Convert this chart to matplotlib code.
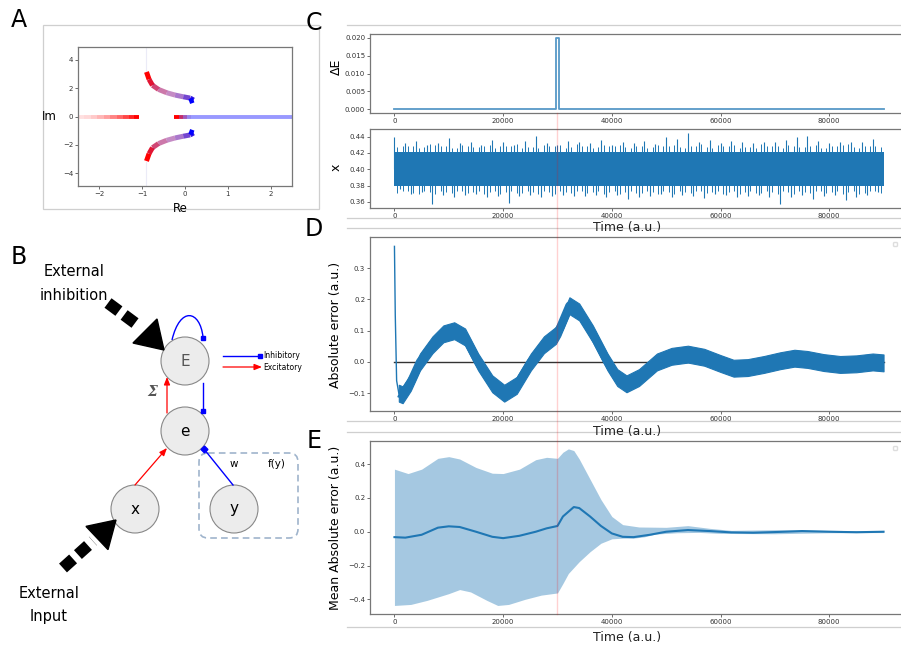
import numpy as np
import matplotlib
matplotlib.use("Agg")
import matplotlib.pyplot as plt
from matplotlib.collections import LineCollection
from matplotlib.patches import Circle, FancyBboxPatch, Polygon, PathPatch
from matplotlib.path import Path
from matplotlib.lines import Line2D

W, H = 901, 646
BLUE = "#1f77b4"

# ---- panel A: root locus (Re, Im) ----
branch_re = [-0.90, -0.84, -0.76, -0.62, -0.43, -0.23, -0.04, 0.12, 0.20, 0.10]
branch_im = [3.14, 2.62, 2.20, 1.91, 1.68, 1.51, 1.39, 1.30, 1.16, 1.05]
left_re = [-2.5, -2.35, -2.2, -2.05, -1.9, -1.75, -1.6, -1.45, -1.3, -1.2, -1.08]
right_re = [-0.25, -0.15, -0.05, 0.05, 0.15, 0.3, 0.5, 0.8, 1.1, 1.4, 1.7, 2.0, 2.25, 2.5]

# ---- panel C: dE pulse and input x ----
de_t = [0, 29800, 29800, 30300, 30300, 90000]
de_v = [0, 0, 0.020, 0.020, 0, 0]
x_band = [0.379, 0.421]
spk_t = list(range(0, 90000, 2000))
spk_hi = [0.440, 0.432, 0.435, 0.430, 0.432, 0.438, 0.432, 0.434, 0.430, 0.436,
          0.433, 0.430, 0.435, 0.441, 0.432, 0.430, 0.435, 0.433, 0.432, 0.436,
          0.430, 0.433, 0.432, 0.435, 0.431, 0.439, 0.437, 0.444, 0.434, 0.436,
          0.432, 0.435, 0.433, 0.432, 0.434, 0.433, 0.436, 0.440, 0.441, 0.435,
          0.432, 0.433, 0.434, 0.433, 0.437]
spk_lo = [0.376, 0.370, 0.372, 0.358, 0.369, 0.366, 0.368, 0.370, 0.366, 0.367,
          0.359, 0.367, 0.369, 0.366, 0.367, 0.368, 0.367, 0.367, 0.368, 0.366,
          0.369, 0.364, 0.366, 0.367, 0.370, 0.366, 0.368, 0.367, 0.365, 0.370,
          0.368, 0.366, 0.367, 0.368, 0.366, 0.358, 0.366, 0.368, 0.364, 0.367,
          0.368, 0.362, 0.366, 0.368, 0.372]
mid_hi = [0.427, 0.429, 0.426, 0.431, 0.428, 0.426, 0.430, 0.427, 0.429, 0.426,
          0.428, 0.431, 0.427, 0.426, 0.429, 0.430, 0.427, 0.428, 0.426, 0.430,
          0.429, 0.427, 0.428, 0.426, 0.430, 0.428, 0.427, 0.429, 0.431, 0.426,
          0.428, 0.430, 0.427, 0.426, 0.429, 0.428, 0.430, 0.427, 0.429, 0.426,
          0.428, 0.430, 0.427, 0.429, 0.428]
mid_lo = [0.373, 0.371, 0.374, 0.370, 0.372, 0.373, 0.371, 0.374, 0.372, 0.370,
          0.373, 0.371, 0.372, 0.374, 0.370, 0.372, 0.373, 0.371, 0.374, 0.372,
          0.370, 0.373, 0.371, 0.372, 0.374, 0.370, 0.372, 0.373, 0.371, 0.374,
          0.372, 0.370, 0.373, 0.371, 0.372, 0.374, 0.370, 0.372, 0.373, 0.371,
          0.374, 0.372, 0.370, 0.373, 0.371]

# ---- panel D: absolute error (noisy band) ----
d_start_t = [0, 150, 400, 800]
d_start_v = [0.37, 0.15, -0.06, -0.10]
d_t = [800, 1500, 3000, 4700, 7000, 9000, 11000, 13000, 15400, 18000, 20200,
       22500, 25100, 27500, 29700, 30500, 32200, 34000, 36500, 39200, 41000,
       42700, 45000, 48300, 51000, 54000, 57000, 60000, 62400, 65000, 68000,
       71000, 73600, 76000, 79000, 82000, 85000, 88000, 90000]
d_mid = [-0.10, -0.105, -0.065, 0.0, 0.055, 0.09, 0.10, 0.08, 0.0, -0.07, -0.10,
         -0.075, 0.0, 0.055, 0.085, 0.11, 0.18, 0.16, 0.09, 0.0, -0.05,
         -0.07, -0.05, 0.0, 0.018, 0.025, 0.015, -0.005, -0.02, -0.018, -0.008,
         0.004, 0.012, 0.008, -0.002, -0.008, -0.006, 0.0, -0.003]
d_half = 0.027

# ---- panel E: mean absolute error with spread ----
e_t = [0, 2000, 5000, 8000, 10000, 12000, 15000, 18000, 20000, 23000, 26000,
       28000, 30000, 31000, 33000, 34000, 36000, 38000, 40000, 42000, 44000,
       47000, 50000, 54000, 58000, 62000, 66000, 70000, 75000, 80000, 85000, 90000]
e_mean = [-0.032, -0.035, -0.018, 0.024, 0.032, 0.028, 0.0, -0.03, -0.038, -0.024, 0.0,
          0.02, 0.034, 0.09, 0.146, 0.14, 0.09, 0.034, -0.01, -0.03, -0.032,
          -0.018, 0.0, 0.01, 0.004, -0.004, -0.006, -0.002, 0.004, 0.0, -0.003, 0.0]
eu_t = [0, 2500, 5000, 8000, 10000, 12000, 15000, 18000, 20000, 23000, 26000, 28000,
        30000, 31000, 32000, 33000, 34000, 36000, 38000, 40000, 42000, 45000, 50000,
        54000, 58000, 62000, 70000, 80000, 90000]
e_up = [0.37, 0.344, 0.37, 0.434, 0.444, 0.43, 0.38, 0.346, 0.344, 0.37, 0.426, 0.44,
        0.434, 0.47, 0.49, 0.48, 0.43, 0.31, 0.19, 0.09, 0.042, 0.028, 0.026,
        0.036, 0.02, 0.008, 0.012, 0.008, 0.005]
el_t = [0, 3000, 6000, 10000, 12000, 14000, 17000, 19000, 21000, 24000, 27000, 30000,
        31000, 32000, 34000, 36000, 38000, 40000, 42000, 44000, 46000, 48000, 52000,
        56000, 60000, 70000, 80000, 90000]
e_lo = [-0.436, -0.43, -0.406, -0.366, -0.342, -0.356, -0.406, -0.436, -0.43, -0.40,
        -0.375, -0.362, -0.306, -0.247, -0.177, -0.118, -0.068, -0.042, -0.038, -0.038,
        -0.03, -0.014, -0.006, -0.004, -0.01, -0.012, -0.006, -0.005]

t_ticks = [0, 20000, 40000, 60000, 80000]
pulse_t = 30000

fig = plt.figure(figsize=(W / 100, H / 100), dpi=100)
plt.rcParams['font.family'] = ['DejaVu Sans']


def px_axes(l, t, r, b, **kw):
    return fig.add_axes([l / W, 1 - b / H, (r - l) / W, (b - t) / H], **kw)


def style(ax):
    for s in ax.spines.values():
        s.set_color("#777777")
        s.set_linewidth(0.9)
    ax.tick_params(labelsize=5, length=2, width=0.5, pad=1.5, colors="#333333")


def empty_legend(ax, ytop):
    ax.legend(handles=[], loc="upper right", bbox_to_anchor=(900 / W, 1 - ytop / H),
              bbox_transform=fig.transFigure, fontsize=4, borderpad=0.35,
              framealpha=1, edgecolor="#dddddd")


# overlay in pixel units for diagram, frames and labels
ov = fig.add_axes([0, 0, 1, 1], zorder=-1)
ov.set_xlim(0, W)
ov.set_ylim(H, 0)
ov.axis("off")

fc = "#cfcfcf"
ov.add_patch(plt.Rectangle((43, 25), 276, 184, fill=False, ec=fc, lw=0.9))
for yy in [25, 218, 228, 421, 432, 627]:
    ov.plot([347, W], [yy, yy], color=fc, lw=0.9)

for lab, xx, yy in [("A", 19, 20), ("B", 19, 257), ("C", 314, 23), ("D", 314, 229), ("E", 314, 441)]:
    ov.text(xx, yy, lab, fontsize=17, ha="center", va="center")

for yy in [227, 432, 638]:
    ov.text(627, yy, "Time (a.u.)", fontsize=9, ha="center", va="center", color="#222222")
ov.text(336, 67, "ΔE", fontsize=9, rotation=90, ha="center", va="center")
ov.text(336, 167, "x", fontsize=9, rotation=90, ha="center", va="center")
ov.text(336, 325, "Absolute error (a.u.)", fontsize=9, rotation=90, ha="center", va="center")
ov.text(336, 528, "Mean Absolute error (a.u.)", fontsize=9, rotation=90, ha="center", va="center")
ov.text(49, 117, "Im", fontsize=8.5, ha="center", va="center")
ov.text(180, 208, "Re", fontsize=8.5, ha="center", va="center")

# ---- diagram B ----
nodes = {"E": (185, 361), "e": (185, 431), "x": (135, 509), "y": (234, 509)}
for k, (cx, cy) in nodes.items():
    ov.add_patch(Circle((cx, cy), 24, fc="#ececec", ec="#888888", lw=0.8))
    ov.text(cx, cy, k, fontsize=11, ha="center", va="center",
            color="#555555" if k == "E" else "black")

ov.add_patch(FancyBboxPatch((199, 453), 99, 85, boxstyle="round,pad=0,rounding_size=9",
                            fill=False, ec="#9fb4cc", lw=1.2, ls=(0, (4, 2.5))))
ov.text(234, 464, "w", fontsize=7.5, ha="center", va="center")
ov.text(277, 464, "f(y)", fontsize=7.5, ha="center", va="center")
ov.text(152, 392, "Σ", fontsize=10, ha="center", va="center", color="#555555",
        family="DejaVu Serif", weight="bold", style="italic")


def excit(x0, y0, x1, y1):
    ov.annotate("", xy=(x1, y1), xytext=(x0, y0),
                arrowprops=dict(arrowstyle="-|>,head_length=0.45,head_width=0.18",
                                color="red", lw=0.9, shrinkA=0, shrinkB=0))


def inhib(x0, y0, x1, y1, mk="s"):
    ov.plot([x0, x1], [y0, y1], color="blue", lw=1.0)
    ov.plot([x1], [y1], marker=mk, color="blue", ms=3.5)


excit(167, 413, 167, 377)
excit(135, 485, 167, 448)
inhib(203, 383, 203, 411)
inhib(233, 485, 204, 449, mk="D")
loop = Path([(172, 340), (180, 306), (200, 310), (203, 337)],
            [Path.MOVETO, Path.CURVE4, Path.CURVE4, Path.CURVE4])
ov.add_patch(PathPatch(loop, fill=False, ec="blue", lw=1.0))
ov.plot([203], [338], marker="s", color="blue", ms=3.5)

inhib(223, 356, 260, 356)
excit(223, 367, 262, 367)
ov.text(263, 356, "Inhibitory", fontsize=5.5, va="center")
ov.text(263, 367, "Excitatory", fontsize=5.5, va="center")


def big_arrow(tail, dash_end, base, tip, half):
    ov.plot([tail[0], dash_end[0]], [tail[1], dash_end[1]], color="black", lw=8.5,
            dashes=(1.15, 0.55), solid_capstyle="butt", dash_capstyle="butt")
    d = np.array(tip) - np.array(base)
    n = np.array([-d[1], d[0]]) / np.hypot(*d) * half
    b = np.array(base)
    ov.add_patch(Polygon([b + n, b - n, tip], closed=True, color="black"))


big_arrow((108, 303), (139, 326), (145, 331), (164, 350), 17)
big_arrow((63, 568), (93, 541), (97, 538), (116, 520), 16)
ov.text(74, 272, "External", fontsize=10.5, ha="center", va="center")
ov.text(74, 295, "inhibition", fontsize=10.5, ha="center", va="center")
ov.text(49, 593, "External", fontsize=10.5, ha="center", va="center")
ov.text(49, 616, "Input", fontsize=10.5, ha="center", va="center")

# ---- panel A axes ----
axA = px_axes(78, 47, 292, 186)
style(axA)
axA.set_xlim(-2.5, 2.5)
axA.set_ylim(-4.9, 4.9)
axA.set_xticks([-2, -1, 0, 1, 2])
axA.set_yticks([-4, -2, 0, 2, 4])


def grad(ax, xs, ys, cols, lw):
    pts = np.column_stack([xs, ys])
    segs = np.stack([pts[:-1], pts[1:]], axis=1)
    ax.add_collection(LineCollection(segs, colors=cols, linewidths=lw, capstyle="butt",
                                     joinstyle="round"))


nb = len(branch_re) - 1
bcols = []
for i in range(nb):
    f = i / (nb - 1)
    bcols.append((1 - f, 0, f, 1 - 0.55 * np.sin(np.pi * f) ** 2))
grad(axA, branch_re, branch_im, bcols, 3.6)
grad(axA, branch_re, [-v for v in branch_im], bcols, 3.6)
nl = len(left_re) - 1
grad(axA, left_re, [0] * len(left_re),
     [(1, 0, 0, 0.12 + 0.88 * (i / (nl - 1)) ** 1.5) for i in range(nl)], 2.8)
nr = len(right_re) - 1
rcols = []
for i in range(nr):
    f = i / (nr - 1)
    mix = min(1.0, f * 3.5)
    rcols.append((1 - mix, 0, mix, 1 - 0.6 * mix))
grad(axA, right_re, [0] * len(right_re), rcols, 2.8)
axA.plot([-0.9, -0.9], [3.2, 4.9], color="#d8d8f0", lw=0.8, alpha=0.5)
axA.plot([-0.9, -0.9], [-3.2, -4.9], color="#d8d8f0", lw=0.8, alpha=0.5)

# ---- panel C ----
xl = (-4500, 94500)
axC1 = px_axes(370, 34, 908, 113)
style(axC1)
axC1.plot(de_t, de_v, color=BLUE, alpha=0.75, lw=1.3)
axC1.set_xlim(*xl)
axC1.set_ylim(-0.0011, 0.0211)
axC1.set_xticks(t_ticks)
axC1.set_yticks([0, 0.005, 0.010, 0.015, 0.020])
axC1.set_yticklabels(["0.000", "0.005", "0.010", "0.015", "0.020"])

axC2 = px_axes(370, 129, 908, 208)
style(axC2)
axC2.fill_between([0, 90000], x_band[0], x_band[1], color=BLUE, lw=0)
axC2.vlines(spk_t, 0.40, spk_hi, color=BLUE, lw=0.8)
axC2.vlines([t + 1000 for t in spk_t], spk_lo, 0.40, color=BLUE, lw=0.8)
axC2.vlines([t + 500 for t in spk_t], 0.40, mid_hi, color=BLUE, lw=0.7)
axC2.vlines([t + 1500 for t in spk_t], 0.40, mid_hi[::-1], color=BLUE, lw=0.7)
axC2.vlines([t + 1500 for t in spk_t], mid_lo, 0.40, color=BLUE, lw=0.7)
axC2.vlines([t + 500 for t in spk_t], mid_lo[::-1], 0.40, color=BLUE, lw=0.7)
axC2.set_xlim(*xl)
axC2.set_ylim(0.3526, 0.4494)
axC2.set_xticks(t_ticks)
axC2.set_yticks([0.36, 0.38, 0.40, 0.42, 0.44])
axC2.set_yticklabels(["0.36", "0.38", "0.40", "0.42", "0.44"])

# ---- panel D ----
axD = px_axes(370, 237, 908, 411)
style(axD)
axD.plot([0, 90000], [0, 0], color="#333333", lw=1.0, zorder=1)
axD.plot(d_start_t, d_start_v, color=BLUE, lw=1.0)
axD.fill_between(d_t, [m - d_half for m in d_mid], [m + d_half for m in d_mid],
                 color=BLUE, lw=0.8, zorder=2)
axD.plot(d_t, d_mid, color=BLUE, lw=6, solid_joinstyle="round",
         solid_capstyle="butt", zorder=2)
axD.set_xlim(*xl)
axD.set_ylim(-0.157, 0.40)
axD.set_xticks(t_ticks)
axD.set_yticks([-0.1, 0.0, 0.1, 0.2, 0.3])
empty_legend(axD, 239)

# ---- panel E ----
axE = px_axes(370, 441, 908, 614)
style(axE)
grid = np.array(sorted(set(eu_t) | set(el_t)))
up = np.interp(grid, eu_t, e_up)
lo = np.interp(grid, el_t, e_lo)
axE.fill_between(grid, lo, up, color=BLUE, alpha=0.4, lw=0)
axE.plot(e_t, e_mean, color=BLUE, lw=1.5)
axE.set_xlim(*xl)
axE.set_ylim(-0.4865, 0.5365)
axE.set_xticks(t_ticks)
axE.set_yticks([-0.4, -0.2, 0.0, 0.2, 0.4])
empty_legend(axE, 443)

# red marker of the perturbation time
xpx = 370 + (pulse_t - xl[0]) / (xl[1] - xl[0]) * 538
fig.add_artist(Line2D([xpx / W] * 2, [1 - 113 / H, 1 - 614 / H], color="red",
                      alpha=0.18, lw=1.0, transform=fig.transFigure, zorder=5))

fig.savefig("out.png", dpi=100)
